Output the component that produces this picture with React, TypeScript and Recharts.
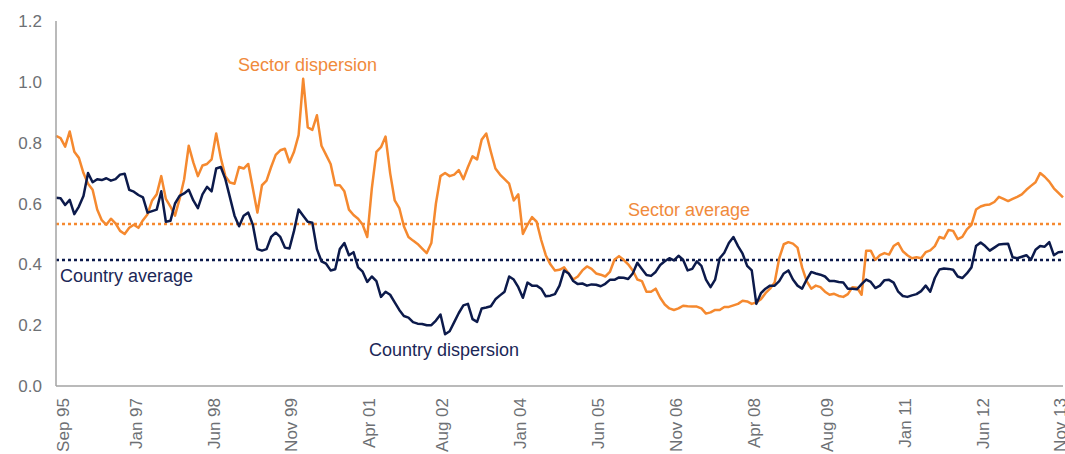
import React from 'react';
import { LineChart, Line, XAxis, YAxis, ReferenceLine } from 'recharts';

// monthly observations, Sep 95 .. Jan 14
const monthNames = ['Jan', 'Feb', 'Mar', 'Apr', 'May', 'Jun', 'Jul', 'Aug', 'Sep', 'Oct', 'Nov', 'Dec'];
const startYear = 1995;
const startMonth = 8; // Sep
const tickLabels = [
  'Sep 95', 'Jan 97', 'Jun 98', 'Nov 99', 'Apr 01', 'Aug 02', 'Jan 04',
  'Jun 05', 'Nov 06', 'Apr 08', 'Aug 09', 'Jan 11', 'Jun 12', 'Nov 13',
];
const yTicks = [0, 0.2, 0.4, 0.6, 0.8, 1.0, 1.2];

const sectorDispersion = [
  0.822, 0.815, 0.787, 0.837, 0.77, 0.75, 0.70, 0.665, 0.645, 0.58,
  0.545, 0.53, 0.55, 0.535, 0.51, 0.50, 0.52, 0.53, 0.52, 0.545,
  0.565, 0.61, 0.63, 0.69, 0.615, 0.59, 0.56, 0.615, 0.68, 0.79,
  0.735, 0.69, 0.725, 0.73, 0.745, 0.83, 0.75, 0.69, 0.669, 0.665,
  0.72, 0.715, 0.73, 0.65, 0.57, 0.66, 0.675, 0.72, 0.76, 0.775,
  0.78, 0.735, 0.77, 0.825, 1.01, 0.85, 0.842, 0.89, 0.79, 0.76,
  0.73, 0.66, 0.66, 0.64, 0.58, 0.562, 0.55, 0.53, 0.49, 0.65,
  0.77, 0.785, 0.82, 0.70, 0.61, 0.585, 0.525, 0.49, 0.478, 0.467,
  0.452, 0.437, 0.47, 0.60, 0.69, 0.70, 0.69, 0.695, 0.71, 0.68,
  0.72, 0.755, 0.745, 0.81, 0.83, 0.77, 0.715, 0.695, 0.68, 0.665,
  0.61, 0.63, 0.50, 0.53, 0.555, 0.54, 0.48, 0.43, 0.40, 0.38,
  0.382, 0.39, 0.37, 0.35, 0.36, 0.38, 0.393, 0.385, 0.37, 0.366,
  0.36, 0.375, 0.415, 0.427, 0.415, 0.40, 0.38, 0.35, 0.345, 0.31,
  0.31, 0.32, 0.29, 0.268, 0.255, 0.25, 0.255, 0.264, 0.262, 0.261,
  0.261, 0.255, 0.238, 0.242, 0.25, 0.25, 0.26, 0.26, 0.265, 0.27,
  0.28, 0.278, 0.27, 0.275, 0.285, 0.305, 0.32, 0.34, 0.42, 0.466,
  0.473, 0.468, 0.455, 0.39, 0.345, 0.32, 0.33, 0.325, 0.31, 0.30,
  0.303, 0.296, 0.293, 0.302, 0.325, 0.323, 0.30, 0.445, 0.445, 0.415,
  0.43, 0.437, 0.432, 0.46, 0.47, 0.443, 0.43, 0.42, 0.423, 0.42,
  0.44, 0.446, 0.46, 0.49, 0.485, 0.513, 0.51, 0.483, 0.49, 0.515,
  0.53, 0.58, 0.59, 0.595, 0.597, 0.605, 0.622, 0.615, 0.608, 0.615,
  0.622, 0.63, 0.645, 0.658, 0.67, 0.70, 0.688, 0.672, 0.65, 0.635,
  0.62,
];

const countryDispersion = [
  0.619, 0.617, 0.595, 0.612, 0.565, 0.59, 0.625, 0.70, 0.67, 0.68,
  0.677, 0.683, 0.675, 0.68, 0.695, 0.698, 0.645, 0.639, 0.628, 0.62,
  0.57, 0.575, 0.58, 0.64, 0.54, 0.543, 0.60, 0.625, 0.633, 0.645,
  0.61, 0.585, 0.63, 0.655, 0.64, 0.715, 0.72, 0.68, 0.62, 0.56,
  0.525, 0.56, 0.57, 0.53, 0.45, 0.445, 0.45, 0.49, 0.504, 0.49,
  0.455, 0.452, 0.51, 0.58, 0.56, 0.54, 0.537, 0.45, 0.41, 0.402,
  0.38, 0.384, 0.45, 0.47, 0.43, 0.44, 0.39, 0.376, 0.342, 0.36,
  0.345, 0.293, 0.31, 0.30, 0.275, 0.25, 0.23, 0.225, 0.21, 0.205,
  0.204, 0.20, 0.20, 0.215, 0.235, 0.17, 0.18, 0.21, 0.24, 0.265,
  0.27, 0.22, 0.211, 0.255, 0.258, 0.262, 0.285, 0.298, 0.31, 0.36,
  0.35, 0.325, 0.29, 0.34, 0.33, 0.33, 0.32, 0.295, 0.297, 0.302,
  0.33, 0.38, 0.37, 0.345, 0.335, 0.337, 0.33, 0.334, 0.333, 0.328,
  0.336, 0.349, 0.349, 0.357, 0.356, 0.352, 0.37, 0.405, 0.385, 0.365,
  0.362, 0.375, 0.398, 0.41, 0.42, 0.413, 0.428, 0.415, 0.38, 0.385,
  0.41, 0.395, 0.35, 0.325, 0.35, 0.42, 0.438, 0.47, 0.49, 0.46,
  0.435, 0.395, 0.38, 0.27, 0.305, 0.32, 0.33, 0.33, 0.345, 0.37,
  0.38, 0.35, 0.33, 0.32, 0.35, 0.375, 0.37, 0.366, 0.36, 0.345,
  0.345, 0.342, 0.34, 0.32, 0.32, 0.318, 0.335, 0.35, 0.342, 0.322,
  0.33, 0.348, 0.349, 0.34, 0.31, 0.296, 0.293, 0.298, 0.302, 0.312,
  0.33, 0.31, 0.355, 0.383, 0.386, 0.385, 0.382, 0.36, 0.355, 0.37,
  0.39, 0.46, 0.472, 0.46, 0.445, 0.455, 0.465, 0.467, 0.468, 0.423,
  0.42, 0.425, 0.43, 0.415, 0.448, 0.46, 0.458, 0.473, 0.43, 0.44,
  0.441,
];

const sectorAverage = 0.533;
const countryAverage = 0.414;

const ORANGE = '#f5892f';
const NAVY = '#0c1a4b';
const GREY_TEXT = '#6d7074';
const AXIS = '#a3a3a3';
const FONT = '"Liberation Sans", Arial, sans-serif';

const monthLabel = (i: number) => {
  const m = (startMonth + i) % 12;
  const y = startYear + Math.floor((startMonth + i) / 12);
  return `${monthNames[m]} ${String(y % 100).padStart(2, '0')}`;
};

const data = sectorDispersion.map((s, i) => ({
  month: monthLabel(i),
  sector: s,
  country: countryDispersion[i],
}));

const XTick = (props: any) => {
  const { x, y, payload } = props;
  return (
    <g transform={`translate(${x + 7},${y})`}>
      <text
        transform="rotate(-90)"
        textAnchor="end"
        dominantBaseline="central"
        fill={GREY_TEXT}
        fontSize={17}
        fontFamily={FONT}
      >
        {payload.value}
      </text>
    </g>
  );
};

const App: React.FC = () => {
  return (
    <div style={{ position: 'absolute', left: 0, top: 0, width: 1065, height: 454, background: '#fff' }}>
      <LineChart
        width={1065}
        height={454}
        data={data}
        margin={{ top: 21, right: 2, left: 0, bottom: 0 }}
      >
        <XAxis
          dataKey="month"
          ticks={tickLabels}
          interval={0}
          tick={<XTick />}
          tickLine={false}
          tickSize={0}
          tickMargin={12}
          height={68}
          axisLine={{ stroke: AXIS, strokeWidth: 1.5 }}
        />
        <YAxis
          type="number"
          domain={[0, 1.2]}
          ticks={yTicks}
          tickFormatter={(v: number) => v.toFixed(1)}
          width={56}
          tickLine={false}
          tickSize={0}
          tickMargin={14}
          axisLine={{ stroke: AXIS, strokeWidth: 1.5 }}
          tick={{ fill: GREY_TEXT, fontSize: 17, fontFamily: FONT }}
        />
        <ReferenceLine y={sectorAverage} stroke={ORANGE} strokeWidth={2.5} strokeDasharray="3 3" />
        <ReferenceLine y={countryAverage} stroke={NAVY} strokeWidth={2.5} strokeDasharray="3 3" />
        <Line
          type="linear"
          dataKey="sector"
          stroke={ORANGE}
          strokeWidth={2.5}
          strokeLinejoin="round"
          dot={false}
          activeDot={false}
          isAnimationActive={false}
        />
        <Line
          type="linear"
          dataKey="country"
          stroke={NAVY}
          strokeWidth={2.5}
          strokeLinejoin="round"
          dot={false}
          activeDot={false}
          isAnimationActive={false}
        />
      </LineChart>
      <svg
        width={1065}
        height={454}
        style={{ position: 'absolute', left: 0, top: 0, pointerEvents: 'none' }}
      >
        <g fontFamily={FONT} fontSize={18}>
          <text x={238} y={71} fill="#f08a3c">Sector dispersion</text>
          <text x={628} y={215.5} fill="#f08a3c">Sector average</text>
          <text x={60} y={282} fill="#1b2757">Country average</text>
          <text x={369} y={356} fill="#1b2757">Country dispersion</text>
        </g>
      </svg>
    </div>
  );
};

export default App;
